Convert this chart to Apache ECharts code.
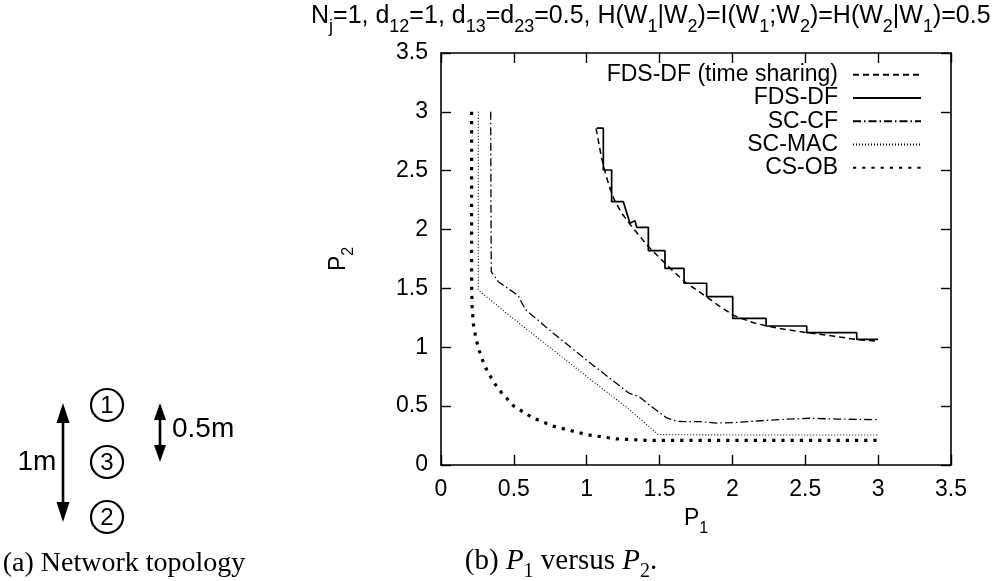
<!DOCTYPE html>
<html>
<head>
<meta charset="utf-8">
<script src="https://cdn.jsdelivr.net/npm/echarts@6/dist/echarts.min.js"></script>
<style>
  html, body { margin: 0; padding: 0; background: #fff; }
  #main { width: 995px; height: 581px; }
</style>
</head>
<body>
<div id="main"></div>
<script>
var chart = echarts.init(document.getElementById('main'));

// axis ticks
var tickMin = 0;
var tickMax = 3.5;
var tickStep = 0.5;

// series names (legend order)
var names = ['FDS-DF (time sharing)', 'FDS-DF', 'SC-CF', 'SC-MAC', 'CS-OB'];

// [P1, P2] pairs
var fdsTimeSharing = [
  [1.064, 2.86], [1.10, 2.62], [1.13, 2.47], [1.16, 2.35], [1.19, 2.25], [1.24, 2.14],
  [1.30, 2.04], [1.36, 1.95], [1.42, 1.86], [1.50, 1.76], [1.59, 1.65], [1.68, 1.55],
  [1.82, 1.43], [1.91, 1.35], [2.01, 1.27], [2.14, 1.21], [2.24, 1.18], [2.37, 1.15],
  [2.51, 1.125], [2.69, 1.095], [2.86, 1.065], [3.0, 1.05]
];
var fdsDf = [
  [1.069, 2.861], [1.114, 2.861], [1.114, 2.506], [1.171, 2.506], [1.171, 2.237], [1.251, 2.237],
  [1.297, 2.053], [1.331, 2.076], [1.343, 2.019], [1.423, 2.019], [1.423, 1.821], [1.537, 1.821],
  [1.537, 1.671], [1.668, 1.671], [1.668, 1.544], [1.823, 1.544], [1.823, 1.43], [2.002, 1.43],
  [2.002, 1.246], [2.231, 1.246], [2.231, 1.181], [2.51, 1.181], [2.51, 1.124], [2.853, 1.124],
  [2.853, 1.068], [3.0, 1.068]
];
var scCf = [
  [0.341, 3.0], [0.343, 2.2], [0.345, 1.643], [0.393, 1.557], [0.53, 1.44], [0.545, 1.40],
  [0.58, 1.32], [0.77, 1.12], [1.0, 0.89], [1.29, 0.61], [1.36, 0.58], [1.43, 0.51],
  [1.55, 0.40], [1.62, 0.37], [1.78, 0.368], [1.89, 0.356], [2.03, 0.362], [2.19, 0.376],
  [2.35, 0.388], [2.53, 0.397], [2.72, 0.39], [3.0, 0.385]
];
var scMac = [
  [0.256, 3.0], [0.256, 1.487], [0.474, 1.265], [0.771, 0.975], [1.0, 0.752],
  [1.274, 0.49], [1.492, 0.258], [2.0, 0.255], [3.0, 0.255]
];
var csOb = [
  [0.21, 3.0], [0.21, 1.6], [0.213, 1.35], [0.222, 1.2], [0.24, 1.07], [0.275, 0.92],
  [0.32, 0.79], [0.39, 0.65], [0.5, 0.5], [0.63, 0.4], [0.77, 0.33], [1.0, 0.258],
  [1.2, 0.222], [1.4, 0.21], [1.8, 0.21], [2.4, 0.21], [3.0, 0.21]
];

var sans = 'Liberation Sans';
var serif = 'Liberation Serif';

// normal + subscript rich styles, subscripts dropped below the baseline
function richSans(size, sub, drop) {
  return {
    m: { fontFamily: sans, fontSize: size, fontWeight: 'normal', color: '#000', verticalAlign: 'bottom', padding: [0, 0, drop, 0] },
    s: { fontFamily: sans, fontSize: sub, fontWeight: 'normal', color: '#000', verticalAlign: 'bottom' }
  };
}

function axisCommon(pos, showLabel) {
  return {
    type: 'value',
    position: pos,
    min: tickMin,
    max: tickMax,
    interval: tickStep,
    axisLine: { show: true, onZero: false, lineStyle: { color: '#000', width: 1.6 } },
    axisTick: { show: true, inside: true, length: 10, lineStyle: { color: '#000', width: 1.4 } },
    splitLine: { show: false },
    axisLabel: {
      show: showLabel, color: '#000', fontFamily: sans, fontSize: 23, margin: 13
    }
  };
}

var xBottom = axisCommon('bottom', true);
xBottom.name = '{m|P}{s|1}';
xBottom.nameLocation = 'middle';
xBottom.nameGap = 42;
xBottom.nameTextStyle = { rich: richSans(23, 16, 7) };
var xTop = axisCommon('top', false);

var yLeft = axisCommon('left', true);
yLeft.name = '{m|P}{s|2}';
yLeft.nameLocation = 'middle';
yLeft.nameRotate = 90;
yLeft.nameGap = 84;
yLeft.nameTextStyle = { rich: richSans(23, 16, 7) };
var yRight = axisCommon('right', false);

function lineSeries(name, data, style) {
  return {
    name: name,
    type: 'line',
    data: data,
    symbol: 'none',
    showSymbol: false,
    lineStyle: style,
    itemStyle: { color: '#000' },
    animation: false
  };
}

var topo = [];
// circled node labels
[[107, 405, '1'], [107, 462, '3'], [107, 517, '2']].forEach(function (n) {
  topo.push({ type: 'circle', shape: { cx: n[0], cy: n[1], r: 16 },
    style: { fill: 'none', stroke: '#000', lineWidth: 2.2 } });
  topo.push({ type: 'text', x: n[0], y: n[1] + 1,
    style: { text: n[2], font: '24px "Liberation Sans"', fill: '#000',
      align: 'center', verticalAlign: 'middle', textAlign: 'center', textVerticalAlign: 'middle' } });
});
// double arrows
function dblArrow(x, y1, y2, hw, hh) {
  topo.push({ type: 'line', shape: { x1: x, y1: y1 + hh - 2, x2: x, y2: y2 - hh + 2 },
    style: { stroke: '#000', lineWidth: 2.6 } });
  topo.push({ type: 'polygon', shape: { points: [[x, y1], [x - hw, y1 + hh], [x + hw, y1 + hh]] },
    style: { fill: '#000' } });
  topo.push({ type: 'polygon', shape: { points: [[x, y2], [x - hw, y2 - hh], [x + hw, y2 - hh]] },
    style: { fill: '#000' } });
}
dblArrow(63, 403, 522, 6.5, 20);
dblArrow(160, 403, 462, 6, 17);
topo.push({ type: 'text', x: 37, y: 462,
  style: { text: '1m', font: '28px "Liberation Sans"', fill: '#000',
    align: 'center', verticalAlign: 'middle', textAlign: 'center', textVerticalAlign: 'middle' } });
topo.push({ type: 'text', x: 172, y: 429,
  style: { text: '0.5m', font: '28px "Liberation Sans"', fill: '#000',
    align: 'left', verticalAlign: 'middle', textAlign: 'left', textVerticalAlign: 'middle' } });
topo.push({ type: 'text', x: 124, y: 564,
  style: { text: '(a) Network topology', font: '28px "Liberation Serif"', fill: '#000',
    align: 'center', verticalAlign: 'middle', textAlign: 'center', textVerticalAlign: 'middle' } });
// caption (b)
topo.push({ type: 'text', x: 561, y: 564,
  style: {
    text: '{m|(b) }{i|P}{s|1}{m| versus }{i|P}{s|2}{m|.}',
    align: 'center', verticalAlign: 'middle', textAlign: 'center', textVerticalAlign: 'middle',
    rich: {
      m: { fontFamily: serif, fontSize: 29, color: '#000', verticalAlign: 'bottom', padding: [0, 0, 6, 0] },
      i: { fontFamily: serif, fontSize: 29, fontStyle: 'italic', color: '#000', verticalAlign: 'bottom', padding: [0, 0, 6, 0] },
      s: { fontFamily: serif, fontSize: 20, color: '#000', verticalAlign: 'bottom' }
    }
  } });

var option = {
  backgroundColor: '#fff',
  animation: false,
  title: {
    text: '{m|N}{s|j}{m|=1, d}{s|12}{m|=1, d}{s|13}{m|=d}{s|23}{m|=0.5, H(W}{s|1}{m||W}{s|2}' +
          '{m|)=I(W}{s|1}{m|;W}{s|2}{m|)=H(W}{s|2}{m||W}{s|1}{m|)=0.5}',
    left: 311,
    top: 4,
    padding: 0,
    textStyle: { fontWeight: 'normal', rich: richSans(25, 18, 7) }
  },
  grid: { left: 441, right: 44, top: 53, bottom: 116, containLabel: false },
  legend: {
    orient: 'vertical',
    align: 'right',
    right: 73,
    top: 63,
    padding: 0,
    itemWidth: 68,
    itemHeight: 12,
    itemGap: 0,
    selectedMode: false,
    data: names,
    itemStyle: { opacity: 0, color: 'rgba(0,0,0,0)', borderWidth: 0 },
    textStyle: { fontFamily: sans, fontSize: 23, color: '#000', lineHeight: 23.3, padding: [0, 10, 0, 0] }
  },
  xAxis: [xBottom, xTop],
  yAxis: [yLeft, yRight],
  graphic: topo,
  series: [
    lineSeries(names[0], fdsTimeSharing, { color: '#000', width: 1.5, type: [6, 4] }),
    lineSeries(names[1], fdsDf, { color: '#000', width: 1.7, type: 'solid' }),
    lineSeries(names[2], scCf, { color: '#000', width: 1.3, type: [8, 3, 1.5, 3] }),
    lineSeries(names[3], scMac, { color: '#000', width: 1.1, type: [1, 2] }),
    lineSeries(names[4], csOb, { color: '#000', width: 3.2, type: [3.2, 6] })
  ]
};

chart.setOption(option);
</script>
</body>
</html>
